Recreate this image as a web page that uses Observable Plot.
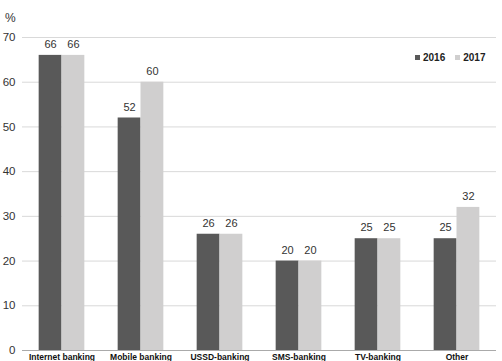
<!DOCTYPE html>
<html><head><meta charset="utf-8">
<script src="https://cdn.jsdelivr.net/npm/d3@7"></script>
<script src="https://cdn.jsdelivr.net/npm/@observablehq/plot@0.6"></script>
<style>
body{margin:0;background:#fff;font-family:Arial,"Liberation Sans",sans-serif;}
#wrap{position:relative;width:502px;height:361px;overflow:hidden;}
#pct{position:absolute;left:5px;top:11px;font-size:12px;color:#333;}
#legend{position:absolute;left:415px;top:52px;font-size:10px;font-weight:bold;color:#222;display:flex;gap:10px;align-items:center;}
#legend span.sw{display:inline-block;width:5px;height:5px;margin-right:3px;vertical-align:middle;position:relative;top:-1px;}
</style></head><body>
<div id="wrap"><div id="pct">%</div>
<div id="legend"></div></div>
<script>
const categories = ["Internet banking","Mobile banking","USSD-banking","SMS-banking","TV-banking","Other"];
const years = ["2016","2017"];
const values2016 = [66,52,26,20,25,25];
const values2017 = [66,60,26,20,25,32];
const yTicks = [0,10,20,30,40,50,60,70];
const colors = ["#595959","#d0cfcf"];

const data = [];
categories.forEach((c,i)=>{
  data.push({category:c, year:years[0], value:values2016[i]});
  data.push({category:c, year:years[1], value:values2017[i]});
});

const chart = Plot.plot({
  width: 502, height: 361,
  marginLeft: 20, marginRight: 5, marginTop: 37, marginBottom: 11,
  style: {fontFamily: "Arial, 'Liberation Sans', sans-serif", fontSize: "11px", color: "#333", background: "#fff"},
  fx: {domain: categories, padding: 0, label: null},
  x: {domain: years, paddingInner: 0, paddingOuter: 0.73, axis: null, round: false},
  y: {domain: [0,70], label: null},
  color: {domain: years, range: colors},
  marks: [
    Plot.ruleY(yTicks.filter(d=>d>0), {stroke:"#d9d9d9", strokeWidth:1}),
    Plot.barY(data, {fx:"category", x:"year", y:"value", fill:"year"}),
    Plot.text(data, {fx:"category", x:"year", y:"value", text:d=>String(d.value), dy:-11, fontSize:11, fill:"#333"}),
    Plot.ruleY([0], {stroke:"#aaa"}),
    Plot.ruleX([{}], {frameAnchor:"left", y1:()=>0, y2:()=>-0.5, stroke:"#aaa"}),
    Plot.ruleX([{c:"Other"}], {fx:"c", frameAnchor:"right", y1:()=>0, y2:()=>-0.5, stroke:"#aaa"}),
    Plot.ruleX([{c:"Internet banking"}], {fx:"c", frameAnchor:"left", y1:()=>0, y2:()=>70, stroke:"#aaa"}),
    Plot.axisY({ticks: yTicks, tickSize: 0, tickPadding: 7, label: null, fontSize: 11.5}),
    Plot.axisFx({anchor:"bottom", tickSize:0, tickPadding:3, label:null, fontSize:8.5, fontWeight:"bold", fill:"#111"})
  ]
});
document.getElementById("wrap").prepend(chart);
const lg = document.getElementById("legend");
years.forEach((y,i)=>{
  const s = document.createElement("span");
  s.innerHTML = `<span class="sw" style="background:${colors[i]}"></span>${y}`;
  lg.appendChild(s);
});
</script>
</body></html>
